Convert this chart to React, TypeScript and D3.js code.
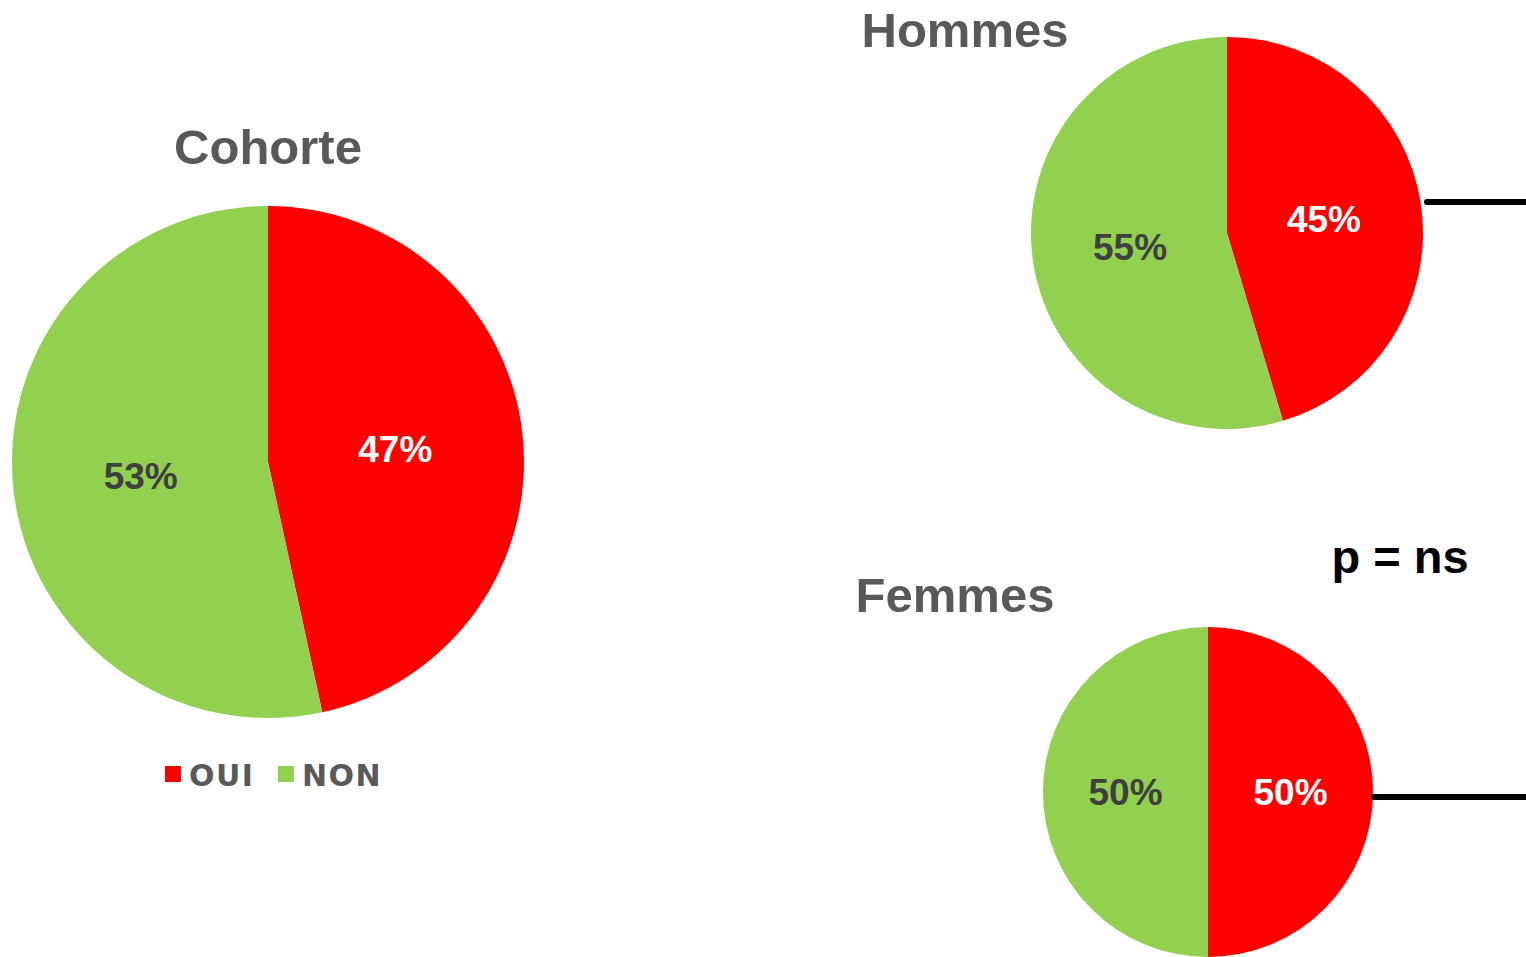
import React from 'react';
import { pie, arc, PieArcDatum } from 'd3';

const categories = ['OUI', 'NON'];
const colors = ['#FF0000', '#92D050'];
const labelColors = ['#FFFFFF', '#404040'];

// shares; labels show them rounded
const cohorteValues = [46.6, 53.4];
const hommesValues = [45.4, 54.6];
const femmesValues = [50, 50];

const pValue = 'p = ns';

const font = '"Liberation Sans", Arial, sans-serif';

type PieProps = { values: number[]; cx: number; cy: number; r: number };

const Pie = ({ values, cx, cy, r }: PieProps) => {
  const slices = pie<number>().sort(null).value((d) => d)(values);
  const someArc = arc<PieArcDatum<number>>().innerRadius(0).outerRadius(r);
  return (
    <g transform={`translate(${cx}, ${cy})`}>
      {slices.map((s, i) => (
        <path key={categories[i]} d={someArc(s) || ''} fill={colors[i]} />
      ))}
      {slices.map((s, i) => {
        const [x, y] = someArc.centroid(s);
        return (
          <text
            key={'l' + i}
            x={x}
            y={y}
            dy="0.36em"
            textAnchor="middle"
            fontFamily={font}
            fontWeight="bold"
            fontSize={37}
            fill={labelColors[i]}
          >
            {Math.round(s.data)}%
          </text>
        );
      })}
    </g>
  );
};

export default function App() {
  return (
    <div style={{ position: 'fixed', left: 0, top: 0, width: 1526, height: 957, overflow: 'hidden', background: '#fff' }}>
      <svg width="1526" height="957" style={{ display: 'block' }}>
        <text x={268} y={164} textAnchor="middle" fontFamily={font} fontWeight="bold" fontSize={49} fill="#595959">
          Cohorte
        </text>
        <Pie values={cohorteValues} cx={268} cy={462} r={256} />

        {/* legend */}
        {categories.map((c, i) => {
          const x0 = [165, 278][i];
          return (
            <g key={c}>
              <rect x={x0} y={766} width={16} height={16} fill={colors[i]} />
              <text x={x0 + 24} y={786} fontFamily='"DejaVu Sans", sans-serif' fontWeight="bold" fontSize={30} letterSpacing={1.5} fill="#595959">
                {c}
              </text>
            </g>
          );
        })}

        <text x={965} y={47} textAnchor="middle" fontFamily={font} fontWeight="bold" fontSize={49} fill="#595959">
          Hommes
        </text>
        <Pie values={hommesValues} cx={1227} cy={233} r={196} />

        <text x={955} y={612} textAnchor="middle" fontFamily={font} fontWeight="bold" fontSize={49} fill="#595959">
          Femmes
        </text>
        <Pie values={femmesValues} cx={1208} cy={792} r={165} />

        <text x={1400} y={573} textAnchor="middle" fontFamily={font} fontWeight="bold" fontSize={47} fill="#000">
          {pValue}
        </text>

        <line x1={1427} y1={202} x2={1530} y2={202} stroke="#000" strokeWidth={6} strokeLinecap="round" />
        <line x1={1374} y1={797} x2={1530} y2={797} stroke="#000" strokeWidth={6} strokeLinecap="round" />
      </svg>
    </div>
  );
}
